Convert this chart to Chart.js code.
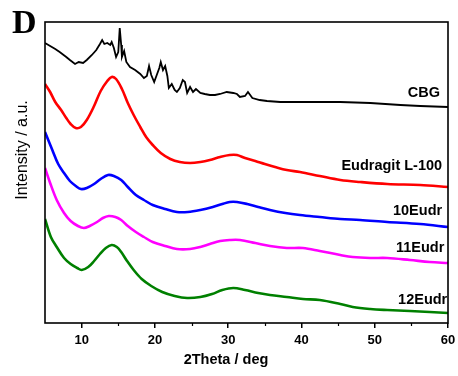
<!DOCTYPE html>
<html><head><meta charset="utf-8">
<script src="https://cdn.jsdelivr.net/npm/chart.js@4.4.0/dist/chart.umd.min.js"></script>
<style>html,body{margin:0;padding:0;background:#fff}#wrap{width:458px;height:376px}</style>
</head><body><div id="wrap"><canvas id="c" width="458" height="376"></canvas></div>
<script>
// ---- data (2Theta in deg, intensity in arbitrary units with offsets) ----
const cbgTheta = [5.0,5.7,6.4,7.0,7.9,8.4,9.1,9.6,10.2,10.7,11.4,12.0,12.5,12.8,13.1,13.5,13.9,14.1,14.4,14.7,15.0,15.2,15.4,15.5,15.8,16.1,16.6,17.3,18.0,18.5,18.9,19.2,19.5,19.9,20.3,20.6,20.8,21.1,21.4,21.7,21.9,22.3,22.7,23.0,23.4,23.8,24.1,24.4,24.8,25.2,25.6,26.2,26.8,27.5,28.2,28.9,29.8,30.7,31.2,31.6,32.3,32.7,33.3,34.3,35.3,37.1,39.4,42.1,45.3,49.4,53.5,56.2,60.0];
const cbgInt = [280,277,274,271,266,263,259,261,260,263,268,273,279,283,279,280,278,281,275,266,271,295,278,266,272,261,256,253,249,245,247,257,248,241,249,255,261,253,257,247,235,239,233,231,235,243,241,230,236,231,234,230,229,228,228,229,231,230,229,226,227,231,225,223,222,221,221,221,221,220,218,217,216];

const eudTheta = [5.0,5.7,6.4,7.2,7.9,8.5,9.2,9.9,10.7,11.7,12.6,13.5,14.1,14.7,15.5,16.3,17.1,18.0,18.8,19.7,20.8,22.1,23.4,24.8,26.2,27.5,28.9,30.2,31.2,32.3,33.7,35.0,36.4,38.0,39.8,42.5,45.3,48.0,51.7,56.2,60.0];
const eudInt = [239,231,221,213,205,199,195,196,203,217,232,242,246,244,234,220,208,196,186,178,170,164,161,160,161,163,166,168,168,165,162,159,156,153,151,147,143,141,139,138,136];

const e10Theta = [5.0,6.0,6.8,7.6,8.4,9.2,9.9,10.7,11.7,12.6,13.6,14.4,15.4,16.3,17.4,18.5,19.7,21.4,23.0,24.5,26.2,27.9,29.2,30.2,31.2,32.6,34.1,35.7,37.8,39.8,42.5,45.3,48.0,51.7,56.2,60.0];
const e10Int = [191,173,159,150,142,137,134,135,139,144,148,147,143,136,128,123,118,114,111,111,113,116,119,121,121,119,116,113,110,108,106,104,103,101,99,96];

const e11Theta = [5.0,5.7,6.6,7.6,8.5,9.5,10.3,11.1,12.1,12.9,13.7,14.6,15.4,16.3,17.4,18.5,19.7,21.4,23.0,24.8,26.2,27.5,28.9,30.2,31.6,33.7,35.7,38.0,40.2,42.5,45.3,47.0,49.4,51.7,54.8,57.5,60.0];
const e11Int = [155,140,123,110,102,97,95,97,101,105,107,106,103,97,91,86,81,77,74,74,76,79,82,83,83,80,77,75,75,72,68,66,65,65,63,61,60];

const e12Theta = [5.0,5.8,6.6,7.6,8.5,9.4,10.0,10.9,11.7,12.5,13.3,14.1,14.8,15.4,16.2,17.1,18.2,19.5,21.0,22.7,24.4,26.2,27.8,29.2,30.7,32.3,34.1,35.7,38.0,40.2,42.5,45.3,47.0,49.4,51.7,54.8,57.5,60.0];
const e12Int = [104,86,76,65,59,55,53,56,62,69,75,78,76,71,62,53,44,37,31,27,25,26,29,33,35,33,30,28,26,24,23,19,16,14,13,12,11,10];

const seriesNames = ["CBG","Eudragit L-100","10Eudr","11Eudr","12Eudr"];
const seriesColors = ["#000000","#ff0000","#0000ff","#ff00ff","#008000"];
const xTickValues = [10,20,30,40,50,60];
const xMin = 5, xMax = 60;

const pts = (xs, ys) => xs.map((x,i)=>({x:x,y:ys[i]}));
const thetas = [cbgTheta,eudTheta,e10Theta,e11Theta,e12Theta];
const ints = [cbgInt,eudInt,e10Int,e11Int,e12Int];

// label anchors (deg, intensity) — right-aligned annotation positions
const labelAnchor = [[58.9,230],[59.2,157],[59.2,112],[59.5,75],[59.9,23.5]];

const SANS = '"Liberation Sans", Arial, sans-serif';

const deco = {
  id:'deco',
  afterDatasetsDraw(chart){
    const {ctx, chartArea:a, scales:{x,y}} = chart;
    ctx.save();
    ctx.strokeStyle='#000'; ctx.lineWidth=1.6;
    ctx.strokeRect(a.left, a.top, a.right-a.left, a.bottom-a.top);
    ctx.lineWidth=1.2;
    for(let v=15; v<60; v+=10){
      const px = Math.round(x.getPixelForValue(v))+0.5;
      ctx.beginPath(); ctx.moveTo(px,a.bottom); ctx.lineTo(px,a.bottom+3); ctx.stroke();
    }
    ctx.fillStyle='#000';
    ctx.font='bold 14.5px '+SANS;
    ctx.textAlign='right'; ctx.textBaseline='middle';
    seriesNames.forEach((n,i)=>{
      ctx.fillText(n, x.getPixelForValue(labelAnchor[i][0]), y.getPixelForValue(labelAnchor[i][1]));
    });
    ctx.textAlign='center';
    ctx.font='bold 14.5px '+SANS;
    ctx.fillText('2Theta / deg', 226, 360);
    ctx.save();
    ctx.translate(23,150); ctx.rotate(-Math.PI/2);
    ctx.font='16px '+SANS;
    ctx.fillText('Intensity / a.u.',0,0);
    ctx.restore();
    ctx.textAlign='left'; ctx.textBaseline='alphabetic';
    ctx.font='bold 34px "Liberation Serif", "Times New Roman", serif';
    ctx.fillText('D', 12, 33);
    ctx.restore();
  }
};

new Chart(document.getElementById('c'), {
  type:'line',
  data:{
    datasets: seriesNames.map((n,i)=>({
      label:n,
      data: pts(thetas[i], ints[i]),
      borderColor: seriesColors[i],
      borderWidth: i===0 ? 1.8 : 2.6,
      pointRadius:0,
      tension: i===0 ? 0 : 0.35,
      fill:false
    }))
  },
  options:{
    responsive:false,
    animation:false,
    events:[],
    layout:{padding:{top:22,right:10,left:0,bottom:0}},
    plugins:{legend:{display:false},tooltip:{enabled:false}},
    scales:{
      x:{
        type:'linear', min:xMin, max:xMax,
        afterFit(s){ s.height = 53; s.paddingLeft = 0; s.paddingRight = 0; },
        afterBuildTicks(s){ s.ticks = [5].concat(xTickValues).map(v=>({value:v})); },
        ticks:{
          autoSkip:false, maxRotation:0, padding:5, color:'#000',
          font:{family:SANS, size:13, weight:'bold'},
          callback:(v)=> (v%10===0 ? String(v) : '')
        },
        grid:{drawOnChartArea:false, drawTicks:true, tickLength:5, lineWidth:1.5,
              color:(c)=> (c.tick && c.tick.value%10===0 ? '#000' : 'rgba(0,0,0,0)')},
        border:{display:false}
      },
      y:{
        type:'linear', min:0, max:301,
        afterFit(s){ s.width = 45; s.paddingTop = 0; s.paddingBottom = 0; },
        ticks:{display:false},
        grid:{display:false},
        border:{display:false}
      }
    }
  },
  plugins:[deco]
});
</script>
</body></html>
